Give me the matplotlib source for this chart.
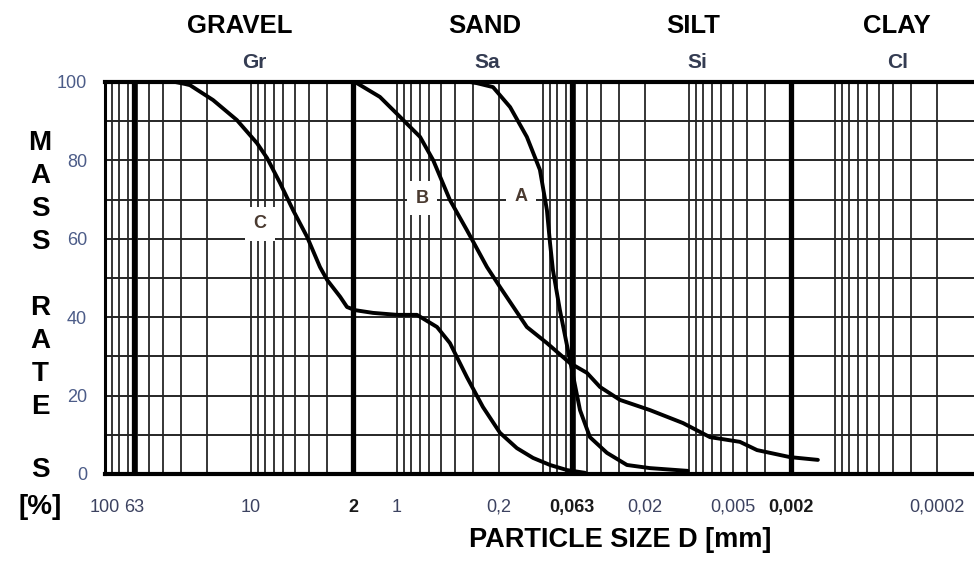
import numpy as np
import matplotlib
matplotlib.use("Agg")
import matplotlib.pyplot as plt

plt.rcParams['font.family'] = ['Liberation Sans', 'DejaVu Sans']
NARROW = ['Liberation Sans Narrow', 'Liberation Sans', 'DejaVu Sans']

# grain size curves (particle size in mm, mass rate passing in %)
size_a = [0.316, 0.283, 0.220, 0.168, 0.129, 0.105, 0.094, 0.0895, 0.0855,
          0.0766, 0.0654, 0.0558, 0.0477, 0.0365, 0.0266, 0.0185, 0.0102]
pass_a = [100, 99.7, 98.7, 93.6, 86.0, 77.6, 67.3, 58.9, 52.0,
          41.8, 29.1, 16.3, 9.4, 5.4, 2.3, 1.5, 0.8]

size_b = [1.94, 1.31, 0.953, 0.695, 0.566, 0.434, 0.332, 0.242, 0.197, 0.129,
          0.094, 0.0654, 0.050, 0.0407, 0.0297, 0.0185, 0.0110, 0.00718,
          0.00448, 0.00342, 0.00203, 0.00131]
pass_b = [100, 96.2, 91.1, 86.0, 80.1, 69.9, 62.2, 52.8, 47.7, 37.5,
          33.4, 28.3, 25.8, 22.2, 18.9, 16.3, 13.0, 9.4,
          8.2, 6.1, 4.3, 3.6]

size_c = [42.0, 33.0, 28.3, 26.2, 18.2, 12.5, 9.1, 7.76, 6.32, 5.15, 4.13,
          3.37, 3.01, 2.45, 2.20, 1.94, 1.46, 1.0, 0.73, 0.532, 0.434, 0.332,
          0.258, 0.197, 0.151, 0.117, 0.0895, 0.0685, 0.0515]
pass_c = [100, 100, 99.5, 99.2, 95.4, 90.3, 84.4, 80.6, 74.2, 67.3, 60.5,
          52.8, 49.5, 45.2, 42.6, 41.8, 41.1, 40.6, 40.6, 37.5, 33.4, 24.7,
          17.1, 10.5, 6.6, 4.1, 2.3, 1.0, 0.3]

curve_names = ['A', 'B', 'C']
label_pos = [(0.1415, 70.7), (0.674, 70.4), (8.67, 63.8)]

# fraction boundaries and names
boundaries = [63, 2, 0.063, 0.002]
soil_names = ['GRAVEL', 'SAND', 'SILT', 'CLAY']
soil_short = ['Gr', 'Sa', 'Si', 'Cl']
soil_name_x = [240, 485, 693, 897]
soil_short_x = [254, 487, 697, 898]

x_ticks = [100, 63, 10, 2, 1, 0.2, 0.063, 0.02, 0.005, 0.002, 0.0002]
x_tick_labels = ['100', '63', '10', '2', '1', '0,2', '0,063', '0,02',
                 '0,005', '0,002', '0,0002']
bold_ticks = ['2', '0,063', '0,002']
y_ticks = [0, 20, 40, 60, 80, 100]

W, H = 974, 562
fig = plt.figure(figsize=(W / 100, H / 100), dpi=100)
ax = fig.add_axes([105 / W, 1 - 474 / H, 1 - 105 / W, (474 - 82) / H])

ax.set_xscale('log')
ax.set_xlim(100, 10 ** (-4 + 7 / 146))
ax.set_ylim(0, 100)

# log grid: 1..9 times every decade
for e in range(-4, 2):
    for k in range(1, 10):
        v = k * 10.0 ** e
        ax.axvline(v, color='#262626', lw=1.3, zorder=1)
ax.axvline(100, color='black', lw=2, zorder=1)
for v in boundaries:
    ax.axvline(v, color='black', lw=3.8, zorder=2)
for yv in range(10, 100, 10):
    ax.axhline(yv, color='#262626', lw=1.4, zorder=1)

for s in ['top', 'bottom']:
    ax.spines[s].set_linewidth(3)
ax.spines['left'].set_linewidth(2.2)
ax.spines['right'].set_visible(False)

ax.plot(size_a, pass_a, color='black', lw=2.8, zorder=4, solid_capstyle='round')
ax.plot(size_b, pass_b, color='black', lw=2.8, zorder=4, solid_capstyle='round')
ax.plot(size_c, pass_c, color='black', lw=2.8, zorder=4, solid_capstyle='round')

for name, (xv, yv) in zip(curve_names, label_pos):
    ax.text(xv, yv, name, fontsize=13, fontweight='bold', color='#4a3a30',
            ha='center', va='center', zorder=5,
            bbox=dict(facecolor='white', edgecolor='none', pad=6))

ax.set_xticks(x_ticks)
ax.set_xticklabels(x_tick_labels, family=NARROW)
ax.xaxis.set_minor_locator(matplotlib.ticker.NullLocator())
ax.tick_params(axis='x', length=0, pad=18, labelsize=13, labelcolor='#3c4260')
for t in ax.get_xticklabels():
    if t.get_text() in bold_ticks:
        t.set_fontweight('bold')
        t.set_color('#1a1a1a')

ax.set_yticks(y_ticks)
ax.set_yticklabels([str(v) for v in y_ticks], family=NARROW)
ax.tick_params(axis='y', length=0, pad=13, labelsize=13, labelcolor='#4c5c88')

# fraction names above the plot
for name, xp in zip(soil_names, soil_name_x):
    fig.text(xp / W, 1 - 26 / H, name, fontsize=18.5, fontweight='bold',
             ha='center', va='center')
for name, xp in zip(soil_short, soil_short_x):
    fig.text(xp / W, 1 - 63 / H, name, fontsize=15, fontweight='bold',
             color='#343c52', ha='center', va='center')

# vertical y label, one letter per line
y_letters = ['M', 'A', 'S', 'S', 'R', 'A', 'T', 'E', 'S', '[%]']
y_letter_pos = [143, 176, 209, 242, 308, 341, 374, 407, 470, 507]
for ch, yp in zip(y_letters, y_letter_pos):
    fig.text(40 / W, 1 - yp / H, ch, fontsize=20, fontweight='bold',
             ha='center', va='center')

fig.text(620 / W, 1 - 540 / H, 'PARTICLE SIZE D [mm]', fontsize=19.5,
         fontweight='bold', ha='center', va='center')

fig.savefig('out.png', dpi=100)
